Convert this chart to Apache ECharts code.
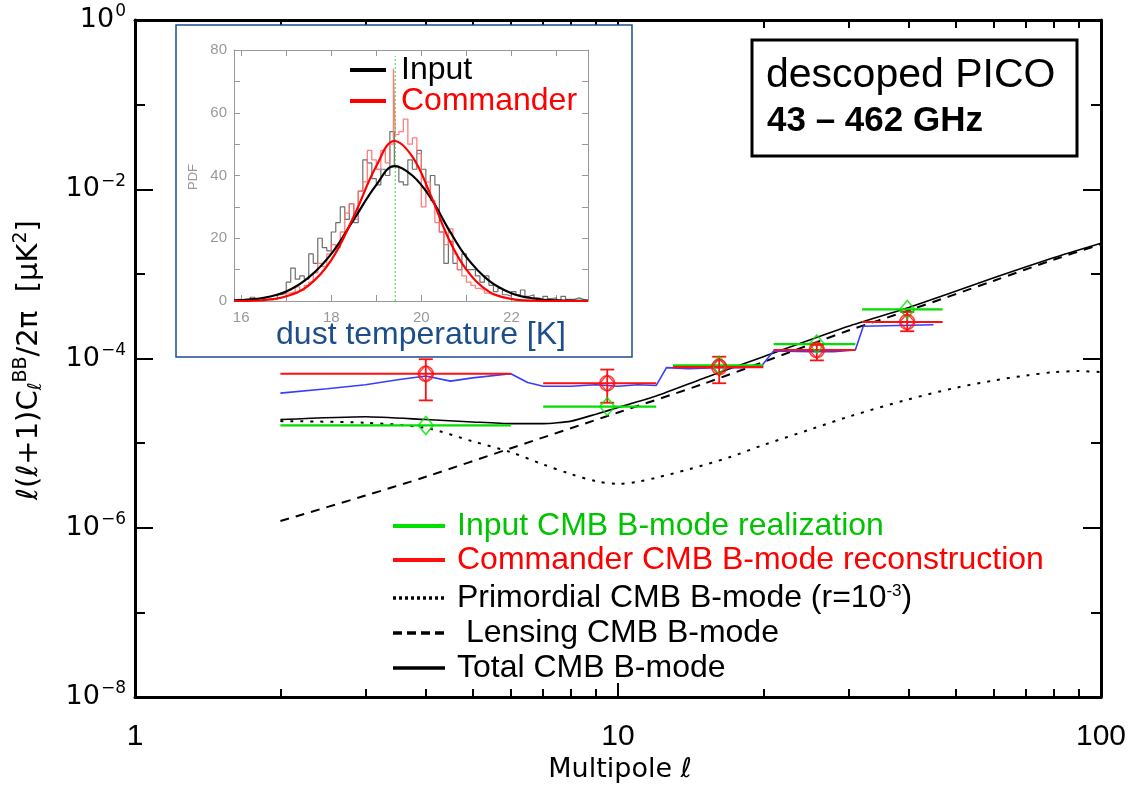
<!DOCTYPE html>
<html><head><meta charset="utf-8">
<script src="https://cdn.jsdelivr.net/npm/echarts@6/dist/echarts.min.js"></script>
<style>html,body{margin:0;padding:0;background:#fff}#c{width:1130px;height:790px}</style>
</head><body><div id="c"></div>
<script>
// ---------------- main panel data (multipole ell, D_ell in uK^2) ----------------
const lensingL = [2, 3, 4, 6, 10, 15, 20, 30, 40, 60, 80, 100];
const lensingD = [1.2e-6, 2.4e-6, 4.0e-6, 8.7e-6, 2.3e-5, 5.0e-5, 9.1e-5, 2.14e-4, 3.7e-4, 8.3e-4, 1.48e-3, 2.24e-3];

const primL = [2, 3, 4, 5, 6, 7, 8, 9, 10, 11, 12, 14, 17, 20, 25, 30, 40, 50, 60, 70, 80, 90, 100];
const primD = [1.82e-5, 1.74e-5, 1.51e-5, 1.05e-5, 7.8e-6, 5.6e-6, 4.3e-6, 3.55e-6, 3.3e-6, 3.5e-6, 3.9e-6, 4.9e-6, 6.8e-6, 9.5e-6, 1.45e-5, 2.05e-5, 3.3e-5, 4.5e-5, 5.5e-5, 6.3e-5, 6.9e-5, 7.1e-5, 6.9e-5];

const totalL = [2, 3, 4, 5, 6, 7, 8, 9, 10, 12, 15, 20, 30, 40, 60, 80, 100];
const totalD = [1.9e-5, 2.05e-5, 1.9e-5, 1.78e-5, 1.7e-5, 1.7e-5, 1.82e-5, 2.2e-5, 2.63e-5, 3.6e-5, 5.8e-5, 1.05e-4, 2.4e-4, 4.0e-4, 9.0e-4, 1.56e-3, 2.3e-3];

const blueL = [2, 2.5, 3, 3.5, 4, 4.5, 5, 6, 6.5, 7, 8, 9, 10, 11, 12, 12.6, 14, 16, 18, 19.8, 21, 25, 28, 31, 32.2, 38, 45];
const blueD = [3.9e-5, 4.4e-5, 4.9e-5, 5.6e-5, 6.2e-5, 5.4e-5, 5.9e-5, 6.6e-5, 5.2e-5, 4.7e-5, 4.7e-5, 4.9e-5, 4.7e-5, 4.9e-5, 4.8e-5, 7.8e-5, 7.6e-5, 7.8e-5, 7.8e-5, 8.1e-5, 1.23e-4, 1.2e-4, 1.2e-4, 1.26e-4, 2.4e-4, 2.45e-4, 2.5e-4];

const binLo     = [2, 7, 13, 21, 32];
const binHi     = [6, 12, 20, 31, 47];
const binCenter = [4, 9.5, 16.2, 25.8, 39.7];
const inputVal  = [1.62e-5, 2.7e-5, 8.3e-5, 1.48e-4, 3.8e-4];
const cmdrVal   = [6.6e-5, 5.1e-5, 7.9e-5, 1.26e-4, 2.7e-4];
const cmdrErrLo = [3.2e-5, 3.0e-5, 5.1e-5, 9.5e-5, 2.1e-4];
const cmdrErrHi = [9.8e-5, 7.4e-5, 1.05e-4, 1.45e-4, 3.55e-4];

const xMajorTicks = [1, 10, 100];
const xMinorTicks = [2, 3, 4, 5, 6, 7, 8, 9, 20, 30, 40, 50, 60, 70, 80, 90];
const yMajorTicks = [1e-8, 1e-6, 1e-4, 1e-2, 1];
const yMinorTicks = [1e-7, 1e-5, 1e-3, 1e-1];

// ---------------- inset data (dust temperature PDF) ----------------
const blackHistEdge = [15.9,16.0,16.1,16.2,16.3,16.4,16.5,16.6,16.7,16.8,16.9,17.0,17.1,17.2,17.3,17.4,17.5,17.6,17.7,17.8,17.9,18.0,18.1,18.2,18.3,18.4,18.5,18.6,18.7,18.8,18.9,19.0,19.1,19.2,19.3,19.4,19.5,19.6,19.7,19.8,19.9,20.0,20.1,20.2,20.3,20.4,20.5,20.6,20.7,20.8,20.9,21.0,21.1,21.2,21.3,21.4,21.5,21.6,21.7,21.8,21.9,22.0,22.1,22.2,22.3,22.4,22.5,22.6,22.7,22.8,22.9,23.0,23.1,23.2,23.3,23.4,23.5,23.6,23.7];
const blackHistVal  = [0,0.5,0.3,1.2,0.3,0,0.5,0.8,0.5,2,2.5,6,10.5,7,8,7,15,12,20,17,16,22,25,30,26,31,25,35,45,44,39,37,42,40,54,43,38,37,45,42,48,42,35,40,37,22,12,19,12,10,15,10,10,8,6,8,5,3,4,2,1.5,3,2,3.5,1.5,2,1,0.5,1.5,0.8,1,0.3,1.5,0.5,0.5,1,0.5,0.3,0.3];

const redHistEdge = [15.9,16.0,16.1,16.2,16.3,16.4,16.5,16.6,16.7,16.8,16.9,17.0,17.1,17.2,17.3,17.4,17.5,17.6,17.7,17.8,17.9,18.0,18.1,18.2,18.3,18.4,18.5,18.6,18.7,18.8,18.9,19.0,19.1,19.2,19.3,19.38,19.42,19.5,19.6,19.7,19.8,19.9,20.0,20.1,20.2,20.3,20.4,20.5,20.6,20.7,20.8,20.9,21.0,21.1,21.2,21.3,21.4,21.5,21.6,21.7,21.8,21.9,22.0,22.2,22.5,23.0,23.7];
const redHistVal  = [0.5,0.3,0,0.3,0,0.3,0.5,0.3,0.8,1,1.5,2.5,3,4.5,3.5,5,6,9,12,11,15,18,17,22,28,31,26,35,38,48,45,42,48,44,50,74,53,54,58,50,52,47,30,38,32,25,22,18,23,15,10,8,6,5,4,3.5,2.5,2,1.5,1,0.8,0.5,0.3,0.2,0.1,0.1,0.1];

const fitT     = [15.84, 16.5, 17.0, 17.5, 18.0, 18.5, 19.0, 19.4, 19.8, 20.2, 20.6, 21.0, 21.5, 22.0, 22.5, 23.0, 23.7];
const blackFit = [0.2, 1.0, 3.0, 7.5, 15, 26, 37, 43, 40, 33, 23, 14, 6.5, 2.5, 0.8, 0.2, 0.05];
const redFit   = [0, 0.3, 1.5, 5, 13, 27, 43, 51, 46, 34, 20, 10, 3, 0.7, 0.1, 0, 0];
const meanT = 19.42;
const meanLineTop = 78;

const inXTicks = [16, 17, 18, 19, 20, 21, 22, 23];
const inXLabels = [16, 18, 20, 22];
const inYTicks = [0, 10, 20, 30, 40, 50, 60, 70, 80];
const inYLabels = [0, 20, 40, 60, 80];

// ---------------- build chart ----------------
const FONT = "'Liberation Sans', Arial, sans-serif";
const NARROW = "'Liberation Sans Narrow', 'Liberation Sans', Arial, sans-serif";
const DJ = "'DejaVu Sans', sans-serif";
const GREEN = '#00e000', GREEN_TXT = '#00c400', RED = '#ff1010', BLUE = '#3b3bff', INSET_BLUE = '#1c4e8c';
const pairs = (xs, ys) => xs.map((x, i) => [x, ys[i]]);

function logX(pos, ticks, len, line, label) {
  return {
    type: 'log', logBase: 10, gridIndex: 0, position: pos, min: 1, max: 100, z: 0,
    axisLine: { show: line, onZero: false, lineStyle: { color: '#000', width: 3 } },
    axisTick: { show: true, inside: true, length: len, customValues: ticks, lineStyle: { color: '#000', width: 2 } },
    axisLabel: { show: label, customValues: ticks, margin: 25, color: '#000', fontFamily: NARROW, fontSize: 30,
      formatter: v => String(Math.round(v)) },
    splitLine: { show: false }
  };
}
function logY(pos, ticks, len, line, label) {
  return {
    type: 'log', logBase: 10, gridIndex: 0, position: pos, min: 1e-8, max: 1, z: 0,
    axisLine: { show: line, onZero: false, lineStyle: { color: '#000', width: 3 } },
    axisTick: { show: true, inside: true, length: len, customValues: ticks, lineStyle: { color: '#000', width: 2 } },
    axisLabel: { show: label, customValues: ticks, margin: 9, color: '#000',
      formatter: v => { const e = Math.round(Math.log10(v)); return '{b|10}{s|' + (e < 0 ? '\u2212' + (-e) : e) + '}'; },
      rich: {
        b: { fontFamily: DJ, fontSize: 27, color: '#000' },
        s: { fontFamily: DJ, fontSize: 17, color: '#000', padding: [0, 0, 16, 1] }
      } },
    splitLine: { show: false }
  };
}
function inX(pos, label) {
  return {
    type: 'value', gridIndex: 1, position: pos, min: 15.84, max: 23.7, z: 3,
    axisLine: { show: true, onZero: false, lineStyle: { color: '#999', width: 1 } },
    axisTick: { show: true, inside: true, length: 6, customValues: inXTicks, lineStyle: { color: '#999' } },
    axisLabel: { show: label, customValues: inXLabels, margin: 9, color: '#999', fontSize: 15, fontFamily: FONT },
    splitLine: { show: false }
  };
}
function inY(pos, label) {
  return {
    type: 'value', gridIndex: 1, position: pos, min: 0, max: 80, z: 3,
    axisLine: { show: true, onZero: false, lineStyle: { color: '#999', width: 1 } },
    axisTick: { show: true, inside: true, length: 6, customValues: inYTicks, lineStyle: { color: '#999' } },
    axisLabel: { show: label, customValues: inYLabels, margin: 7, color: '#999', fontSize: 15, fontFamily: FONT },
    splitLine: { show: false }
  };
}

const binData = (vals) => binLo.map((lo, i) => [lo, binHi[i], vals[i]]);
function binRender(color) {
  return function (params, api) {
    const a = api.coord([api.value(0), api.value(2)]);
    const b = api.coord([api.value(1), api.value(2)]);
    return { type: 'line', shape: { x1: a[0], y1: a[1], x2: b[0], y2: b[1] }, style: { stroke: color, lineWidth: 2.2 } };
  };
}
function errRender(params, api) {
  const top = api.coord([api.value(0), api.value(2)]);
  const bot = api.coord([api.value(0), api.value(1)]);
  const w = 7;
  const st = { stroke: RED, lineWidth: 1.8 };
  return { type: 'group', children: [
    { type: 'line', shape: { x1: top[0], y1: top[1], x2: bot[0], y2: bot[1] }, style: st },
    { type: 'line', shape: { x1: top[0] - w, y1: top[1], x2: top[0] + w, y2: top[1] }, style: st },
    { type: 'line', shape: { x1: bot[0] - w, y1: bot[1], x2: bot[0] + w, y2: bot[1] }, style: st }
  ] };
}
const stepData = (edges, vals) => edges.map((e, i) => [e, vals[Math.min(i, vals.length - 1)]]);

const legendRows = [
  { y: 526, color: GREEN, dash: null, w: 4, text: '{g|Input CMB B-mode realization}' },
  { y: 560, color: RED, dash: null, w: 4, text: '{r|Commander CMB B-mode reconstruction}' },
  { y: 598, color: '#000', dash: [3, 3], w: 3.5, text: '{k|Primordial CMB B-mode (r=10}{sup|-3}{k|)}' },
  { y: 633, color: '#000', dash: [9, 5], w: 3.5, text: '{k| Lensing CMB B-mode}' },
  { y: 668, color: '#000', dash: null, w: 3.5, text: '{k|Total CMB B-mode}' }
];
const legRich = {
  g: { fontFamily: FONT, fontSize: 32, fill: GREEN_TXT, color: GREEN_TXT },
  r: { fontFamily: FONT, fontSize: 32, fill: '#ff0000', color: '#ff0000' },
  k: { fontFamily: FONT, fontSize: 32, fill: '#000', color: '#000' },
  sup: { fontFamily: FONT, fontSize: 17, fill: '#000', color: '#000', padding: [0, 0, 14, 0] }
};

const graphics = [
  // inset frame
  { type: 'rect', z: 1, shape: { x: 176, y: 25, width: 456, height: 332 }, style: { fill: '#fff', stroke: INSET_BLUE, lineWidth: 1.5 } },
  // title box
  { type: 'rect', z: 10, shape: { x: 752, y: 40, width: 325, height: 116 }, style: { fill: '#fff', stroke: '#000', lineWidth: 3 } },
  { type: 'text', z: 11, x: 766, y: 76, style: { text: 'descoped PICO', font: "41px 'Liberation Sans', Arial, sans-serif", fill: '#000', verticalAlign: 'middle' } },
  { type: 'text', z: 11, x: 767, y: 121, style: { text: '43 \u2013 462 GHz', font: "bold 35px 'Liberation Sans', Arial, sans-serif", fill: '#000', verticalAlign: 'middle' } },
  // y axis title
  { type: 'text', z: 11, x: 29, y: 360, rotation: Math.PI / 2,
    style: { text: '{a|\u2113(\u2113+1)C}{sb|\u2113}{sp|BB}{a|/2\u03c0  [\u03bcK}{sp|2}{a|]}', align: 'center', verticalAlign: 'middle',
      rich: {
        a: { fontFamily: DJ, fontSize: 29, fill: '#000', color: '#000' },
        sb: { fontFamily: DJ, fontSize: 19, fill: '#000', color: '#000', padding: [14, 0, 0, 0] },
        sp: { fontFamily: DJ, fontSize: 19, fill: '#000', color: '#000', padding: [0, 0, 16, 0] }
      } } },
  // x axis title
  { type: 'text', z: 11, x: 620, y: 770, style: { text: 'Multipole \u2113', font: "27px 'DejaVu Sans', sans-serif", fill: '#000', align: 'center', verticalAlign: 'middle' } },
  // inset texts
  { type: 'text', z: 11, x: 193, y: 177, rotation: Math.PI / 2, style: { text: 'PDF', font: "13px 'Liberation Sans', Arial, sans-serif", fill: '#999', align: 'center', verticalAlign: 'middle' } },
  { type: 'line', z: 11, shape: { x1: 350, y1: 70, x2: 386, y2: 70 }, style: { stroke: '#000', lineWidth: 4 } },
  { type: 'text', z: 11, x: 401, y: 70, style: { text: 'Input', font: "32px 'Liberation Sans', Arial, sans-serif", fill: '#000', verticalAlign: 'middle' } },
  { type: 'line', z: 11, shape: { x1: 350, y1: 101, x2: 386, y2: 101 }, style: { stroke: '#ff0000', lineWidth: 4 } },
  { type: 'text', z: 11, x: 401, y: 101, style: { text: 'Commander', font: "32px 'Liberation Sans', Arial, sans-serif", fill: '#ff0000', verticalAlign: 'middle' } },
  { type: 'text', z: 11, x: 421, y: 335, style: { text: 'dust temperature [K]', font: "32px 'Liberation Sans', Arial, sans-serif", fill: INSET_BLUE, align: 'center', verticalAlign: 'middle' } }
];
legendRows.forEach(r => {
  graphics.push({ type: 'line', z: 11, shape: { x1: 393, y1: r.y, x2: 445, y2: r.y }, style: { stroke: r.color, lineWidth: r.w, lineDash: r.dash } });
  graphics.push({ type: 'text', z: 11, x: 457, y: r.y, style: { text: r.text, rich: legRich, verticalAlign: 'middle' } });
});

const option = {
  animation: false,
  backgroundColor: '#fff',
  grid: [
    { left: 135, top: 20, width: 966, height: 677, containLabel: false },
    { left: 234, top: 50, width: 354, height: 251, containLabel: false, z: 3 }
  ],
  xAxis: [
    logX('bottom', xMajorTicks, 14, true, true),
    logX('bottom', xMinorTicks, 8, false, false),
    logX('top', xMajorTicks, 14, true, false),
    logX('top', xMinorTicks, 8, false, false),
    inX('bottom', true),
    inX('top', false)
  ],
  yAxis: [
    logY('left', yMajorTicks, 18, true, true),
    logY('left', yMinorTicks, 10, false, false),
    logY('right', yMajorTicks, 18, true, false),
    logY('right', yMinorTicks, 10, false, false),
    inY('left', true),
    inY('right', false)
  ],
  graphic: { elements: graphics },
  series: [
    { name: 'Primordial', type: 'line', xAxisIndex: 0, yAxisIndex: 0, data: pairs(primL, primD), showSymbol: false, smooth: 0.3,
      lineStyle: { color: '#000', width: 2, type: [3, 7] }, z: 3 },
    { name: 'Lensing', type: 'line', xAxisIndex: 0, yAxisIndex: 0, data: pairs(lensingL, lensingD), showSymbol: false, smooth: 0.3,
      lineStyle: { color: '#000', width: 2, type: [9, 7] }, z: 3 },
    { name: 'Total', type: 'line', xAxisIndex: 0, yAxisIndex: 0, data: pairs(totalL, totalD), showSymbol: false, smooth: 0.2,
      lineStyle: { color: '#000', width: 1.6 }, z: 3 },
    { name: 'Blue', type: 'line', xAxisIndex: 0, yAxisIndex: 0, data: pairs(blueL, blueD), showSymbol: false,
      lineStyle: { color: BLUE, width: 1.6 }, z: 4 },
    { name: 'Input bins', type: 'custom', xAxisIndex: 0, yAxisIndex: 0, data: binData(inputVal), encode: { x: [0, 1], y: 2 },
      renderItem: binRender(GREEN), z: 5 },
    { name: 'Commander bins', type: 'custom', xAxisIndex: 0, yAxisIndex: 0, data: binData(cmdrVal), encode: { x: [0, 1], y: 2 },
      renderItem: binRender(RED), z: 6 },
    { name: 'Commander err', type: 'custom', xAxisIndex: 0, yAxisIndex: 0,
      data: binCenter.map((c, i) => [c, cmdrErrLo[i], cmdrErrHi[i]]), encode: { x: 0, y: [1, 2] },
      renderItem: errRender, z: 6 },
    { name: 'Input pts', type: 'scatter', xAxisIndex: 0, yAxisIndex: 0, data: pairs(binCenter, inputVal), symbol: 'diamond', symbolSize: [15, 18],
      itemStyle: { color: 'rgba(0,0,0,0)', borderColor: GREEN, borderWidth: 1.6 }, z: 7 },
    { name: 'Commander circ', type: 'scatter', xAxisIndex: 0, yAxisIndex: 0, data: pairs(binCenter, cmdrVal), symbol: 'circle', symbolSize: 15,
      itemStyle: { color: 'rgba(0,0,0,0)', borderColor: RED, borderWidth: 1.6 }, z: 7 },
    { name: 'Commander diam', type: 'scatter', xAxisIndex: 0, yAxisIndex: 0, data: pairs(binCenter, cmdrVal), symbol: 'diamond', symbolSize: [15, 17],
      itemStyle: { color: 'rgba(0,0,0,0)', borderColor: RED, borderWidth: 1.4 }, z: 7 },

    // inset
    { name: 'Black hist', type: 'line', xAxisIndex: 4, yAxisIndex: 4, step: 'end', data: stepData(blackHistEdge, blackHistVal), showSymbol: false,
      lineStyle: { color: '#555', width: 1.2, opacity: 0.85 }, z: 4 },
    { name: 'Red hist', type: 'line', xAxisIndex: 4, yAxisIndex: 4, step: 'end', data: stepData(redHistEdge, redHistVal), showSymbol: false,
      lineStyle: { color: '#ff7070', width: 1.3, opacity: 0.9 }, z: 4 },
    { name: 'Mean', type: 'line', xAxisIndex: 4, yAxisIndex: 4, data: [[meanT, 0], [meanT, meanLineTop]], showSymbol: false,
      lineStyle: { color: '#33dd33', width: 1, type: [2, 2] }, z: 5 },
    { name: 'Black fit', type: 'line', xAxisIndex: 4, yAxisIndex: 4, data: pairs(fitT, blackFit), showSymbol: false, smooth: 0.4,
      lineStyle: { color: '#000', width: 2.2 }, z: 6 },
    { name: 'Red fit', type: 'line', xAxisIndex: 4, yAxisIndex: 4, data: pairs(fitT, redFit), showSymbol: false, smooth: 0.4,
      lineStyle: { color: '#ff0000', width: 2.2 }, z: 6 }
  ]
};
const chart = echarts.init(document.getElementById('c'));
chart.setOption(option);
</script>
</body></html>
